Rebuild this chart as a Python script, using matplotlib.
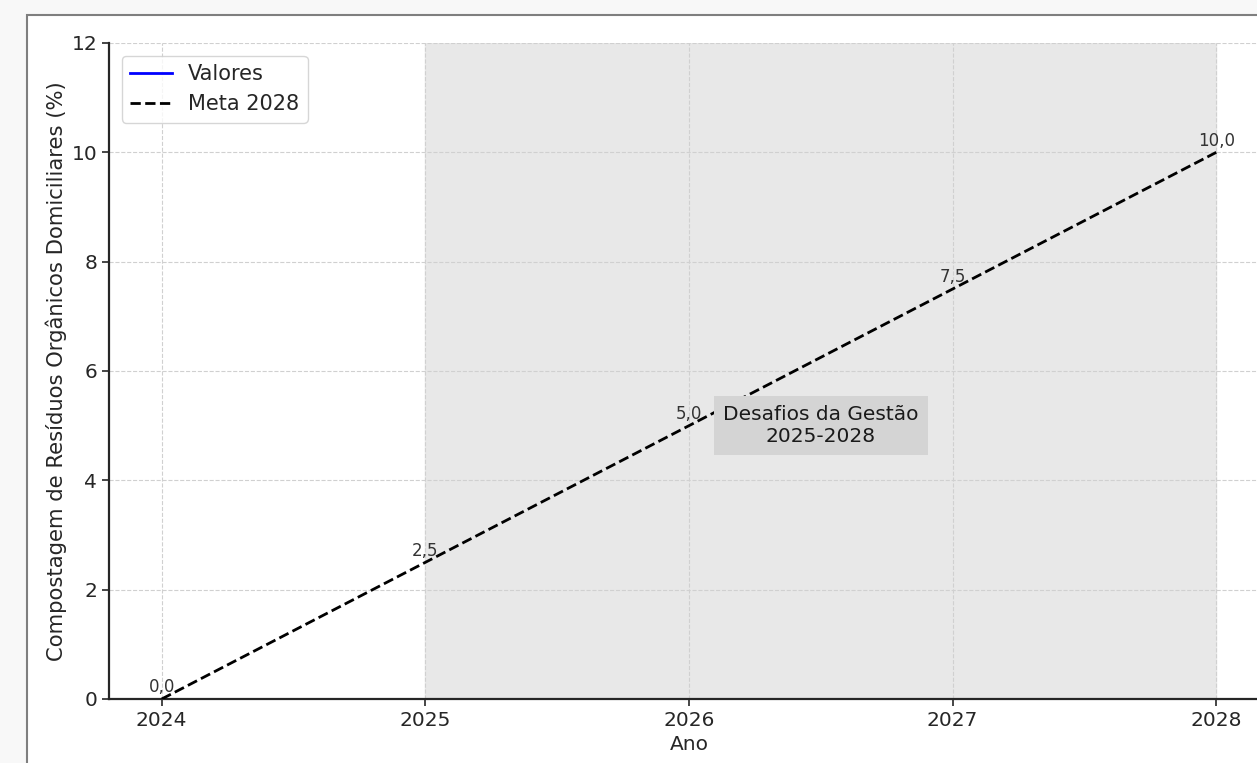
import matplotlib
matplotlib.use("Agg")
import matplotlib.pyplot as plt
from matplotlib.patches import Rectangle

anos = [2024, 2025, 2026, 2027, 2028]
meta = [0.0, 2.5, 5.0, 7.5, 10.0]
valores_anos = []
valores = []
rotulos = ["0,0", "2,5", "5,0", "7,5", "10,0"]
yticks = [0, 2, 4, 6, 8, 10, 12]

W, H = 1257, 763
fig = plt.figure(figsize=(W / 100, H / 100), dpi=100, facecolor="#f8f8f8")
# screenshot-like frame
fig.patches.append(Rectangle((27 / W, -0.1), 1.2, (H - 15) / H + 0.1, transform=fig.transFigure,
                             facecolor="white", edgecolor="#7f7f7f", linewidth=1.5, zorder=-1))

ax_left, ax_right = 109, 1269
ax_top, ax_bottom = 43, 699
ax = fig.add_axes([ax_left / W, 1 - ax_bottom / H, (ax_right - ax_left) / W, (ax_bottom - ax_top) / H])
ax.set_facecolor("none")

ax.axvspan(2025, 2028, color="#e8e8e8", zorder=0)
ax.plot(valores_anos, valores, color="blue", linewidth=2, label="Valores")
ax.plot(anos, meta, color="black", linestyle="--", linewidth=2, label="Meta 2028", zorder=3)

for x, y, t in zip(anos, meta, rotulos):
    ax.annotate(t, (x, y), xytext=(0, 2), textcoords="offset points", ha="center", va="bottom",
                fontsize=12, color="#333333", zorder=4)

ax.text(2026.5, 5.0, "Desafios da Gestão\n2025-2028", ha="center", va="center", fontsize=14.5,
        color="#1a1a1a", zorder=5,
        bbox=dict(facecolor="#d4d4d4", edgecolor="none", boxstyle="square,pad=0.45"))

ax.set_xlim(2023.8, 2028.2)
ax.set_ylim(0, 12)
ax.set_xticks(anos)
ax.set_yticks(yticks)
ax.tick_params(labelsize=14.5, colors="#262626", length=5, width=1.2)
ax.grid(True, linestyle="--", color="#d0d0d0", linewidth=0.8, zorder=1)
ax.set_axisbelow(True)
for s in ["top", "right"]:
    ax.spines[s].set_visible(False)
for s in ["left", "bottom"]:
    ax.spines[s].set_linewidth(1.6)
    ax.spines[s].set_color("#262626")

ax.set_xlabel("Ano", fontsize=14.5, color="#262626", labelpad=4)
ax.set_ylabel("Compostagem de Resíduos Orgânicos Domiciliares (%)", fontsize=15.2, color="#262626", labelpad=3)

leg = ax.legend(loc="upper left", fontsize=15, frameon=True, borderaxespad=0.6)
leg.get_frame().set_edgecolor("#cccccc")
for t in leg.get_texts():
    t.set_color("#262626")

fig.savefig("out.png", dpi=100, facecolor=fig.get_facecolor())
